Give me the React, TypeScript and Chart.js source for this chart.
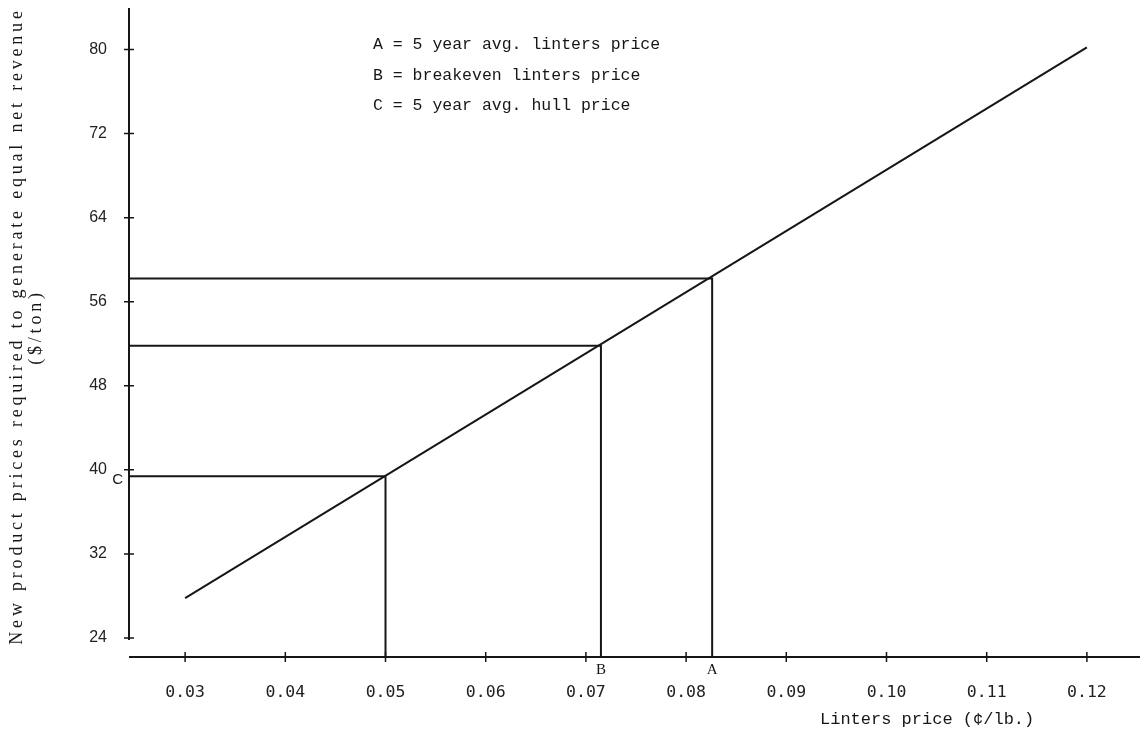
import React, { useEffect, useRef } from 'react';
import { Chart, registerables } from 'chart.js';

Chart.register(...registerables);

// ---- data ----
const xTickValues = [0.03, 0.04, 0.05, 0.06, 0.07, 0.08, 0.09, 0.1, 0.11, 0.12];
const yTickValues = [24, 32, 40, 48, 56, 64, 72, 80];
const xRange = [0.0244, 0.1253];
const yRange = [22.19, 83.95];

const priceLineX = [0.03, 0.12];
const priceLineY = [27.8, 80.2];

const markerNames = ['A', 'B', 'C'];
const markerX = [0.0826, 0.0715, 0.05];
const markerY = [58.2, 51.8, 39.4];
const markerLabelAxis = ['x', 'x', 'y'];

const legendLines = [
  'A = 5 year avg. linters price',
  'B = breakeven linters price',
  'C = 5 year avg. hull price',
];
const yTitleLines = ['New product prices required to generate equal net revenue', '($/ton)'];
const xTitle = 'Linters price (\u00a2/lb.)';

const INK = '#161616';

const decorPlugin = {
  id: 'decor',
  afterDraw(chart: any) {
    const ctx = chart.ctx as CanvasRenderingContext2D;
    const xs = chart.scales.x;
    const ys = chart.scales.y;
    const ca = chart.chartArea;
    ctx.save();
    ctx.strokeStyle = INK;
    ctx.fillStyle = INK;

    // axes
    ctx.lineWidth = 2;
    ctx.beginPath();
    ctx.moveTo(ca.left, ys.getPixelForValue(yTickValues[0]) + 2);
    ctx.lineTo(ca.left, ca.top);
    ctx.moveTo(ca.left, ca.bottom);
    ctx.lineTo(ca.right, ca.bottom);
    ctx.stroke();

    // tick crosses
    ctx.lineWidth = 1.5;
    ctx.beginPath();
    yTickValues.forEach((v) => {
      const y = ys.getPixelForValue(v);
      ctx.moveTo(ca.left - 5, y);
      ctx.lineTo(ca.left + 5, y);
    });
    xTickValues.forEach((v) => {
      const x = xs.getPixelForValue(v);
      ctx.moveTo(x, ca.bottom - 5);
      ctx.lineTo(x, ca.bottom + 5);
    });
    ctx.stroke();

    // marker letters
    markerNames.forEach((name, i) => {
      if (markerLabelAxis[i] === 'x') {
        ctx.font = '15px "Liberation Serif"';
        ctx.textAlign = 'center';
        ctx.textBaseline = 'middle';
        ctx.fillText(name, xs.getPixelForValue(markerX[i]), ca.bottom + 13);
      } else {
        ctx.font = '15px "Liberation Sans"';
        ctx.textAlign = 'right';
        ctx.textBaseline = 'middle';
        ctx.fillText(name, ca.left - 6, ys.getPixelForValue(markerY[i]) + 4);
      }
    });

    // legend text block
    ctx.font = '16.5px "Liberation Mono"';
    ctx.textAlign = 'left';
    ctx.textBaseline = 'middle';
    legendLines.forEach((t, i) => ctx.fillText(t, 373, 45 + i * 30.5));

    // x title
    ctx.font = '17px "Liberation Mono"';
    ctx.fillText(xTitle, 820, 719);

    // y title (rotated)
    ctx.font = '18px "Liberation Serif"';
    ctx.textAlign = 'center';
    ctx.textBaseline = 'alphabetic';
    (ctx as any).letterSpacing = '3.8px';
    ctx.save();
    ctx.translate(22, 326);
    ctx.rotate(-Math.PI / 2);
    ctx.fillText(yTitleLines[0], 0, 0);
    ctx.restore();
    ctx.save();
    ctx.translate(41, 327);
    ctx.rotate(-Math.PI / 2);
    ctx.fillText(yTitleLines[1], 0, 0);
    ctx.restore();
    (ctx as any).letterSpacing = '0px';

    ctx.restore();
  },
};

export default function App() {
  const ref = useRef<HTMLCanvasElement>(null);

  useEffect(() => {
    document.body.style.margin = '0';
    const lineDatasets = [
      {
        data: priceLineX.map((x, i) => ({ x, y: priceLineY[i] })),
        borderColor: INK,
        borderWidth: 2,
        showLine: true,
        pointRadius: 0,
        fill: false,
      },
      ...markerNames.map((_, i) => ({
        data: [
          { x: xRange[0], y: markerY[i] },
          { x: markerX[i], y: markerY[i] },
          { x: markerX[i], y: yRange[0] },
        ],
        borderColor: INK,
        borderWidth: 2,
        showLine: true,
        pointRadius: 0,
        fill: false,
      })),
    ];

    const chart = new Chart(ref.current as HTMLCanvasElement, {
      type: 'scatter',
      data: { datasets: lineDatasets as any },
      options: {
        responsive: false,
        animation: false,
        devicePixelRatio: 1,
        layout: { padding: { top: 8, right: 5, left: 0, bottom: 0 } },
        plugins: {
          legend: { display: false },
          tooltip: { enabled: false },
          title: { display: false },
        },
        scales: {
          x: {
            type: 'linear',
            min: xRange[0],
            max: xRange[1],
            afterBuildTicks: (s: any) => {
              s.ticks = xTickValues.map((v) => ({ value: v }));
            },
            afterFit: (s: any) => {
              s.height = 86;
              s.paddingLeft = 0;
              s.paddingRight = 0;
            },
            ticks: {
              callback: (v: any) => Number(v).toFixed(2),
              font: { family: '"DejaVu Sans Mono"', size: 16.5 },
              color: '#222',
              padding: 26,
              maxRotation: 0,
              autoSkip: false,
            },
            grid: { display: false, drawTicks: false },
            border: { display: false },
          },
          y: {
            type: 'linear',
            min: yRange[0],
            max: yRange[1],
            afterBuildTicks: (s: any) => {
              s.ticks = yTickValues.map((v) => ({ value: v }));
            },
            afterFit: (s: any) => {
              s.width = 129;
              s.paddingTop = 0;
              s.paddingBottom = 0;
            },
            ticks: {
              callback: (v: any) => String(v),
              font: { family: '"Liberation Sans"', size: 16 },
              color: '#222',
              padding: 22,
              autoSkip: false,
            },
            grid: { display: false, drawTicks: false },
            border: { display: false },
          },
        },
      },
      plugins: [decorPlugin],
    });
    return () => chart.destroy();
  }, []);

  return (
    <div style={{ width: 1145, height: 743, background: '#fff' }}>
      <canvas ref={ref} width={1145} height={743} style={{ display: 'block' }} />
    </div>
  );
}
